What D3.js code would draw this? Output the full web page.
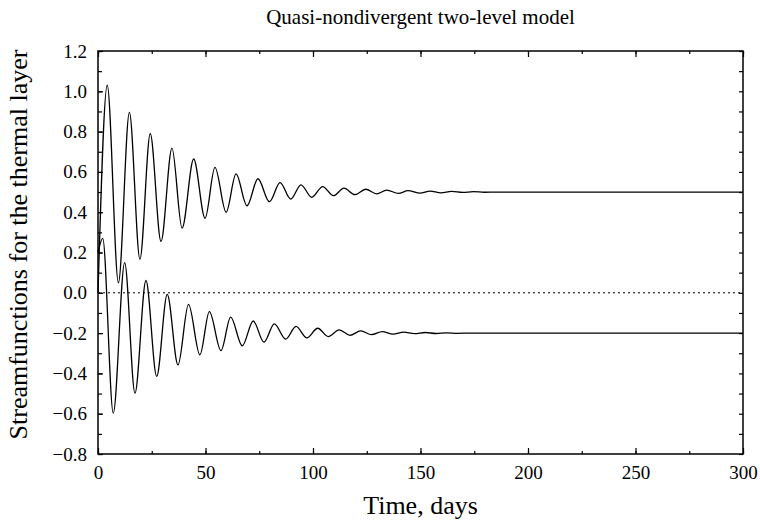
<!DOCTYPE html>
<html><head><meta charset="utf-8">
<script src="https://cdn.jsdelivr.net/npm/d3@7"></script>
<style>body{margin:0;background:#fff}svg{display:block}svg text{font-family:"Liberation Serif","Times New Roman",serif !important;fill:#000}</style>
</head><body>
<script>
const title = "Quasi-nondivergent two-level model";
const xLabel = "Time, days";
const yLabel = "Streamfunctions for the thermal layer";
const xTicks = [0, 50, 100, 150, 200, 250, 300];
const yTicks = [-0.8, -0.6, -0.4, -0.2, 0.0, 0.2, 0.4, 0.6, 0.8, 1.0, 1.2];

// Upper curve (approaches 0.5): extrema
const upperT = [0, 4.3, 9.5, 14.6, 19.5, 24.3, 29.3, 34.4, 39.1, 44.5, 49.8, 54.4, 59.6, 64.2, 69.3, 74.4, 79.7, 84.7, 89.6, 94.4, 99.4, 104.5, 109.5, 114.4, 119.5, 124.5, 129.6, 134.3, 139.7, 144.2, 149.8, 154.4, 159.5, 164.5, 169.6, 174.6, 179.7, 185, 300];
const upperV = [0.0, 1.03, 0.05, 0.895, 0.167, 0.79, 0.255, 0.718, 0.321, 0.664, 0.37, 0.622, 0.40, 0.59, 0.432, 0.566, 0.452, 0.547, 0.465, 0.536, 0.474, 0.527, 0.482, 0.519, 0.487, 0.514, 0.491, 0.510, 0.493, 0.507, 0.495, 0.505, 0.496, 0.503, 0.498, 0.502, 0.499, 0.5, 0.5];

// Lower curve (approaches -0.2)
const lowerT = [0, 2.2, 7.1, 12.4, 17.2, 22.3, 27.3, 32.2, 37.2, 42.1, 47.4, 51.8, 57.2, 61.7, 67.1, 72.2, 77.2, 82.0, 87.3, 92.1, 97.1, 102.2, 107.1, 112.2, 117.2, 122.2, 127.2, 132.2, 137.2, 142.2, 147.2, 152.2, 157.2, 162.2, 167.2, 173, 300];
const lowerV = [0.2, 0.27, -0.597, 0.15, -0.498, 0.061, -0.415, -0.008, -0.358, -0.057, -0.308, -0.093, -0.287, -0.121, -0.263, -0.14, -0.245, -0.154, -0.23, -0.167, -0.224, -0.176, -0.217, -0.184, -0.211, -0.189, -0.208, -0.193, -0.205, -0.195, -0.203, -0.197, -0.202, -0.199, -0.201, -0.2, -0.2];

const W = 760, H = 525;
const m = {left: 98, right: 17, top: 51, bottom: 71};
const svg = d3.select("body").append("svg").attr("width", W).attr("height", H)
  .attr("font-family", "Liberation Serif");
const x = d3.scaleLinear().domain([0, 300]).range([m.left, W - m.right]);
const y = d3.scaleLinear().domain([-0.8, 1.2]).range([H - m.bottom, m.top]);

const line = d3.line().x(d => x(d[0])).y(d => y(d[1])).curve(d3.curveMonotoneX);
const upper = upperT.map((t, i) => [t, upperV[i]]);
const lower = lowerT.map((t, i) => [t, lowerV[i]]);

// zero dotted line
svg.append("line").attr("x1", x(0)).attr("x2", x(300)).attr("y1", y(0)).attr("y2", y(0))
  .attr("stroke", "#000").attr("stroke-width", 1).attr("stroke-dasharray", "2,3");

svg.append("path").datum(upper).attr("d", line).attr("fill", "none").attr("stroke", "#000").attr("stroke-width", 1.3);
svg.append("path").datum(lower).attr("d", line).attr("fill", "none").attr("stroke", "#000").attr("stroke-width", 1.3);

const fmtY = d3.format(".1f");
const xMinor = d3.range(0, 301, 25);
const yMinor = d3.range(-8, 13, 1).map(v => v / 10);

function styleAxis(g) {
  g.attr("font-family", "Liberation Serif").attr("font-size", 19);
  g.select(".domain").remove();
  g.selectAll("line").attr("stroke", "#000").attr("stroke-width", 1.2);
  g.selectAll("text").attr("font-family", "Liberation Serif").style("font-size", "19px");
}
// bottom
svg.append("g").attr("transform", `translate(0,${y(-0.8)})`)
  .call(d3.axisBottom(x).tickValues(xTicks).tickSize(-6).tickPadding(12).tickFormat(d3.format("d"))).call(styleAxis);
svg.append("g").attr("transform", `translate(0,${y(-0.8)})`)
  .call(d3.axisBottom(x).tickValues(xMinor).tickSize(-3).tickFormat("")).call(styleAxis);
// top
svg.append("g").attr("transform", `translate(0,${y(1.2)})`)
  .call(d3.axisTop(x).tickValues(xTicks).tickSize(-6).tickFormat("")).call(styleAxis);
svg.append("g").attr("transform", `translate(0,${y(1.2)})`)
  .call(d3.axisTop(x).tickValues(xMinor).tickSize(-3).tickFormat("")).call(styleAxis);
// left
svg.append("g").attr("transform", `translate(${x(0)},0)`)
  .call(d3.axisLeft(y).tickValues(yTicks).tickSize(-5).tickPadding(11).tickFormat(fmtY)).call(styleAxis);
svg.append("g").attr("transform", `translate(${x(0)},0)`)
  .call(d3.axisLeft(y).tickValues(yMinor).tickSize(-4).tickFormat("")).call(styleAxis);
// right
svg.append("g").attr("transform", `translate(${x(300)},0)`)
  .call(d3.axisRight(y).tickValues(yMinor).tickSize(-4).tickFormat("")).call(styleAxis);

// frame
svg.append("rect").attr("x", x(0)).attr("y", y(1.2)).attr("width", x(300) - x(0)).attr("height", y(-0.8) - y(1.2))
  .attr("fill", "none").attr("stroke", "#000").attr("stroke-width", 1.5);

svg.append("text").attr("x", (x(0) + x(300)) / 2).attr("y", 24).attr("text-anchor", "middle")
  .style("font-size", "21px").text(title);
svg.append("text").attr("x", (x(0) + x(300)) / 2).attr("y", 514).attr("text-anchor", "middle")
  .style("font-size", "26px").text(xLabel);
svg.append("text").attr("transform", `translate(27,${(y(1.2) + y(-0.8)) / 2 - 8}) rotate(-90)`).attr("text-anchor", "middle")
  .style("font-size", "26px").text(yLabel);
</script>
</body></html>
